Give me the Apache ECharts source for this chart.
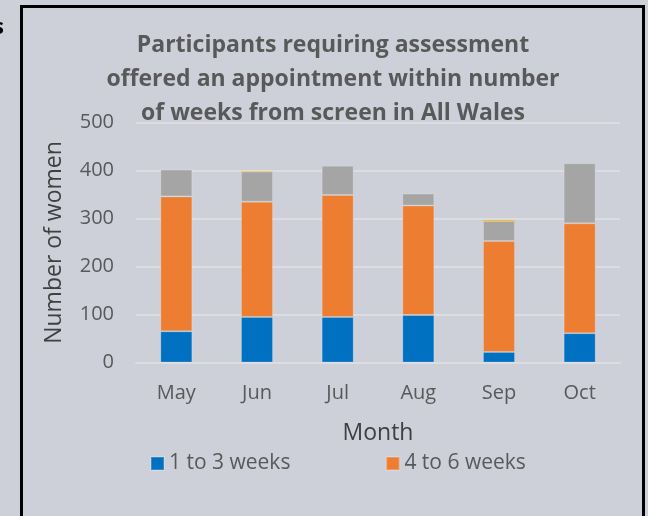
<!DOCTYPE html>
<html><head><meta charset="utf-8">
<script src="https://cdn.jsdelivr.net/npm/echarts@6/dist/echarts.min.js"></script>
<style>html,body{margin:0;padding:0;background:#cdd0d9;}#c{width:648px;height:516px;}</style>
</head><body><div id="c"></div>
<script>
const titleText = 'Participants requiring assessment\noffered an appointment within number\nof weeks from screen in All Wales';
const months = ['May', 'Jun', 'Jul', 'Aug', 'Sep', 'Oct'];
const seriesNames = ['1 to 3 weeks', '4 to 6 weeks', '7 to 9 weeks', '10 weeks or more'];
const weeks1to3 = [65, 95, 95, 99, 22, 61];
const weeks4to6 = [281, 240, 254, 228, 231, 229];
const weeks7to9 = [56, 63, 61, 25, 42, 125];
const weeks10plus = [0, 1, 0, 0, 2, 0];
const yTicks = [0, 100, 200, 300, 400, 500];
const colors = ['#0070c0', '#ed7d31', '#a5a5a5', '#ffc000'];
const FONT = 'Open Sans';

const chart = echarts.init(document.getElementById('c'), null, {renderer: 'canvas'});
const values = [weeks1to3, weeks4to6, weeks7to9, weeks10plus];
chart.setOption({
  backgroundColor: '#cdd0d9',
  animation: false,
  title: {
    text: titleText, left: 333, top: 28, padding: 0, textAlign: 'center',
    textStyle: {fontFamily: FONT, fontWeight: 'bold', fontSize: 23, color: '#595959', lineHeight: 34}
  },
  legend: {
    data: [seriesNames[0], seriesNames[1]], left: 150, top: 453, padding: 0, itemWidth: 13, itemHeight: 13,
    itemGap: 95, itemTextGap: 6, icon: 'rect',
    textStyle: {fontFamily: FONT, fontSize: 21, color: '#595959'}
  },
  grid: {left: 136, right: 28, top: 122.5, bottom: 153.5},
  xAxis: {
    type: 'category', data: months,
    axisLine: {lineStyle: {color: '#dcdde2', width: 2}}, axisTick: {show: false},
    axisLabel: {fontFamily: FONT, fontSize: 20, color: '#595959', margin: 21},
    name: 'Month', nameLocation: 'middle', nameGap: 59,
    nameTextStyle: {fontFamily: FONT, fontSize: 23, color: '#404040'}
  },
  yAxis: {
    type: 'value', min: yTicks[0], max: yTicks[yTicks.length - 1], interval: 100,
    axisLine: {show: false}, axisTick: {show: false},
    splitLine: {lineStyle: {color: '#dcdde2', width: 2}},
    axisLabel: {fontFamily: FONT, fontSize: 20, color: '#595959', margin: 22},
    name: 'Number of women', nameLocation: 'middle', nameGap: 70,
    nameTextStyle: {fontFamily: FONT, fontSize: 23, color: '#404040'}
  },
  series: values.map((v, i) => ({
    name: seriesNames[i], type: 'bar', stack: 'total', data: v, barWidth: 32, barMinHeight: 0,
    itemStyle: i === 3 ? {color: colors[i]} : {color: colors[i], borderColor: 'rgba(255,255,255,0.2)', borderWidth: 1}
  })),
  graphic: [
    {type: 'rect', shape: {x: 21.5, y: 6.5, width: 622, height: 540}, style: {fill: 'none', stroke: '#000', lineWidth: 3}, silent: true},
    {type: 'text', x: -7, y: 17, style: {text: 's', font: 'bold 22px "Open Sans"', fill: '#000'}}
  ]
});
</script></body></html>
